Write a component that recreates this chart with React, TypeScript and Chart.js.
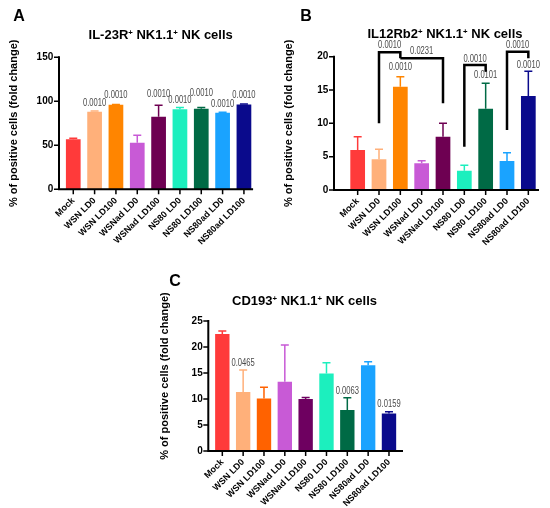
import React, { useEffect, useRef } from "react";
import { Chart, registerables } from "chart.js";

Chart.register(...registerables);

const FONT = "Arial, 'Liberation Sans', sans-serif";

const categories = [
  "Mock",
  "WSN LD0",
  "WSN LD100",
  "WSNad LD0",
  "WSNad LD100",
  "NS80 LD0",
  "NS80 LD100",
  "NS80ad LD0",
  "NS80ad LD100",
];

// Panel A: IL-23R+
const il23rMeans = [57, 88, 96, 53, 82.5, 91, 91.5, 87, 96.5];
const il23rErrTop = [58, 89, 96.5, 61.5, 95.5, 93, 93, 87.5, 97];
const il23rPText = [null, "0.0010", "0.0010", null, "0.0010", "0.0010", "0.0010", "0.0010", "0.0010"];
const il23rPPos = [null, 97.7, 106.8, null, 108.3, 100.7, 109, 96.1, 106.4];
const il23rTicksMax = 150;
const il23rTickStep = 50;

// Panel B: IL12Rb2+
const il12Means = [6.0, 4.6, 15.5, 4.0, 8.0, 2.9, 12.2, 4.35, 14.1];
const il12ErrTop = [8.0, 6.1, 17.0, 4.4, 10.0, 3.7, 16.0, 5.6, 17.8];
const il12PText = [null, null, "0.0010", null, null, null, "0.0101", null, "0.0010"];
const il12PPos = [null, null, 18.4, null, null, null, 17.25, null, 18.75];
const il12TicksMax = 20;
const il12TickStep = 5;
// brackets: from index, to index, left leg bottom, bar top, right leg bottom, label, label y
const il12BracketFrom = [1, 2, 5, 7];
const il12BracketTo = [2, 4, 6, 8];
const il12BracketLeftEnd = [10.0, 19.75, 6.5, 9.0];
const il12BracketTop = [20.66, 19.75, 18.75, 20.75];
const il12BracketRightEnd = [19.75, 13.0, 17.75, 19.75];
const il12BracketLabel = ["0.0010", "0.0231", "0.0010", "0.0010"];
const il12BracketLabelY = [21.75, 20.75, 19.6, 21.75];

// Panel C: CD193+
const cd193Means = [22.5, 11.35, 10.1, 13.3, 10.0, 14.9, 7.9, 16.5, 7.2];
const cd193ErrTop = [23.1, 15.6, 12.25, 20.4, 10.3, 16.95, 10.25, 17.15, 7.55];
const cd193PText = [null, "0.0465", null, null, null, null, "0.0063", null, "0.0159"];
const cd193PPos = [null, 16.87, null, null, null, null, 11.54, null, 8.9];
const cd193TicksMax = 25;
const cd193TickStep = 5;

const colorsAB = ["#FF3A3A", "#FFB07A", "#FF8500", "#C85AD6", "#6E0052", "#1CEFBE", "#006A45", "#1AA3FF", "#0A0A8C"];
const colorsC = ["#FF3A3A", "#FFB07A", "#FF6200", "#C85AD6", "#6E0060", "#1CEFBE", "#006A45", "#1AA3FF", "#0A0A8C"];

type Panel = {
  left: number;
  top: number;
  width: number;
  height: number;
  areaLeft: number;
  areaTop: number;
  areaRight: number;
  areaBottom: number;
  axisGap: number;
  axisExt: number;
  yMax: number;
  yStep: number;
  yPad: number;
  yTitleX: number;
  yTitleDy: number;
  means: number[];
  errTop: number[];
  colors: string[];
  pText: (string | null)[];
  pPos: (number | null)[];
  brackets?: {
    from: number[];
    to: number[];
    leftEnd: number[];
    top: number[];
    rightEnd: number[];
    label: string[];
    labelY: number[];
  };
};

const X_H = 56;

function drawP(ctx: CanvasRenderingContext2D, text: string, x: number, y: number) {
  ctx.save();
  ctx.translate(x, y);
  ctx.scale(0.76, 1);
  ctx.font = `10px ${FONT}`;
  ctx.fillStyle = "#4a4a4a";
  ctx.textAlign = "center";
  ctx.textBaseline = "middle";
  ctx.fillText(text, 0, 0);
  ctx.restore();
}

function BarPanel({ p }: { p: Panel }) {
  const ref = useRef<HTMLCanvasElement | null>(null);
  useEffect(() => {
    if (!ref.current) return;
    const overlay = {
      id: "overlay",
      afterDraw(chart: any) {
        const ctx: CanvasRenderingContext2D = chart.ctx;
        const xs = chart.scales.x;
        const ys = chart.scales.y;
        const a = chart.chartArea;
        ctx.save();
        // error bars
        p.means.forEach((m, i) => {
          const cx = xs.getPixelForValue(i);
          const y0 = ys.getPixelForValue(m);
          const y1 = ys.getPixelForValue(p.errTop[i]);
          ctx.strokeStyle = p.colors[i];
          ctx.lineWidth = 1.5;
          ctx.beginPath();
          ctx.moveTo(cx, y0);
          ctx.lineTo(cx, y1);
          ctx.moveTo(cx - 4, y1);
          ctx.lineTo(cx + 4, y1);
          ctx.stroke();
        });
        // axes
        const ax = a.left - p.axisGap;
        ctx.strokeStyle = "#000";
        ctx.lineWidth = 2;
        ctx.beginPath();
        ctx.moveTo(ax, ys.getPixelForValue(p.yMax) - 1);
        ctx.lineTo(ax, a.bottom);
        ctx.lineTo(a.right + p.axisExt, a.bottom);
        ctx.stroke();
        ctx.lineWidth = 1.5;
        ctx.beginPath();
        ys.ticks.forEach((t: any) => {
          const py = ys.getPixelForValue(t.value);
          ctx.moveTo(ax - 5, py);
          ctx.lineTo(ax, py);
        });
        categories.forEach((_, i) => {
          const px = xs.getPixelForValue(i);
          ctx.moveTo(px, a.bottom);
          ctx.lineTo(px, a.bottom + 5);
        });
        ctx.stroke();
        // p-values
        p.pText.forEach((t, i) => {
          const v = p.pPos[i];
          if (t && v !== null) drawP(ctx, t, xs.getPixelForValue(i), ys.getPixelForValue(v));
        });
        // brackets
        if (p.brackets) {
          const b = p.brackets;
          ctx.strokeStyle = "#000";
          ctx.lineWidth = 2.5;
          ctx.lineJoin = "miter";
          b.from.forEach((f, k) => {
            const x1 = xs.getPixelForValue(f);
            const x2 = xs.getPixelForValue(b.to[k]);
            ctx.beginPath();
            ctx.moveTo(x1, ys.getPixelForValue(b.leftEnd[k]));
            ctx.lineTo(x1, ys.getPixelForValue(b.top[k]));
            ctx.lineTo(x2, ys.getPixelForValue(b.top[k]));
            ctx.lineTo(x2, ys.getPixelForValue(b.rightEnd[k]));
            ctx.stroke();
            drawP(ctx, b.label[k], (x1 + x2) / 2, ys.getPixelForValue(b.labelY[k]));
          });
        }
        // y title
        ctx.save();
        ctx.translate(p.yTitleX, (a.top + a.bottom) / 2 + p.yTitleDy);
        ctx.rotate(-Math.PI / 2);
        ctx.font = `bold 11px ${FONT}`;
        ctx.fillStyle = "#000";
        ctx.textAlign = "center";
        ctx.textBaseline = "middle";
        ctx.fillText("% of positive cells (fold change)", 0, 0);
        ctx.restore();
        ctx.restore();
      },
    };
    const chart = new Chart(ref.current, {
      type: "bar",
      data: {
        labels: categories,
        datasets: [
          {
            data: p.means,
            backgroundColor: p.colors,
            borderWidth: 0,
            barPercentage: 0.69,
            categoryPercentage: 1,
          },
        ],
      },
      options: {
        responsive: false,
        animation: false,
        layout: {
          padding: {
            left: 0,
            top: p.areaTop,
            right: p.width - p.areaRight,
            bottom: p.height - p.areaBottom - X_H,
          },
        },
        plugins: {
          legend: { display: false },
          tooltip: { enabled: false },
          title: { display: false },
        },
        scales: {
          x: {
            grid: { display: false, drawTicks: false },
            border: { display: false },
            ticks: {
              color: "#000",
              font: { family: FONT, size: 9, weight: "bold" },
              minRotation: 45,
              maxRotation: 45,
              padding: 6,
              autoSkip: false,
            },
            afterFit: (s: any) => {
              s.height = X_H;
            },
          },
          y: {
            min: 0,
            max: p.yMax,
            grid: { display: false, drawTicks: false },
            border: { display: false },
            ticks: {
              stepSize: p.yStep,
              color: "#000",
              font: { family: FONT, size: 10, weight: "bold" },
              padding: p.yPad,
            },
            afterFit: (s: any) => {
              s.width = p.areaLeft;
            },
          },
        },
      } as any,
      plugins: [overlay],
    });
    return () => chart.destroy();
  }, [p]);
  return (
    <canvas
      ref={ref}
      width={p.width}
      height={p.height}
      style={{ position: "absolute", left: p.left, top: p.top, width: p.width, height: p.height }}
    />
  );
}

const panelA: Panel = {
  left: 0, top: 0, width: 275, height: 250,
  areaLeft: 62.6, areaTop: 57.3, areaRight: 254.6, areaBottom: 189.3,
  axisGap: 3.6, axisExt: -1.5,
  yMax: il23rTicksMax, yStep: il23rTickStep, yPad: 9.3, yTitleX: 13.5, yTitleDy: 0,
  means: il23rMeans, errTop: il23rErrTop, colors: colorsAB, pText: il23rPText, pPos: il23rPPos,
};

const panelB: Panel = {
  left: 275, top: 0, width: 275, height: 250,
  areaLeft: 72, areaTop: 56.7, areaRight: 264, areaBottom: 190,
  axisGap: 13, axisExt: 0,
  yMax: il12TicksMax, yStep: il12TickStep, yPad: 18.7, yTitleX: 13.5, yTitleDy: 0,
  means: il12Means, errTop: il12ErrTop, colors: colorsAB, pText: il12PText, pPos: il12PPos,
  brackets: {
    from: il12BracketFrom,
    to: il12BracketTo,
    leftEnd: il12BracketLeftEnd,
    top: il12BracketTop,
    rightEnd: il12BracketRightEnd,
    label: il12BracketLabel,
    labelY: il12BracketLabelY,
  },
};

const panelC: Panel = {
  left: 150, top: 255, width: 270, height: 253,
  areaLeft: 61.9, areaTop: 66, areaRight: 249.4, areaBottom: 196,
  axisGap: 3.6, axisExt: 3.6,
  yMax: cd193TicksMax, yStep: cd193TickStep, yPad: 9.2, yTitleX: 15, yTitleDy: -10,
  means: cd193Means, errTop: cd193ErrTop, colors: colorsC, pText: cd193PText, pPos: cd193PPos,
};

const sup: React.CSSProperties = { fontSize: "0.6em", position: "relative", top: "-0.55em" };

function Label({ x, y, size, children }: { x: number; y: number; size: number; children: React.ReactNode }) {
  return (
    <div
      style={{
        position: "absolute",
        left: x,
        top: y,
        transform: "translate(-50%, -50%)",
        font: `bold ${size}px ${FONT}`,
        lineHeight: 1,
        whiteSpace: "nowrap",
        color: "#000",
      }}
    >
      {children}
    </div>
  );
}

export default function App() {
  return (
    <div style={{ position: "fixed", left: 0, top: 0, width: 550, height: 508, background: "#fff", overflow: "hidden" }}>
      <BarPanel p={panelA} />
      <BarPanel p={panelB} />
      <BarPanel p={panelC} />
      <Label x={19} y={15.5} size={16}>A</Label>
      <Label x={306} y={15.5} size={16}>B</Label>
      <Label x={175} y={280.5} size={16}>C</Label>
      <Label x={160.7} y={34} size={13}>
        IL-23R<span style={sup}>+</span> NK1.1<span style={sup}>+</span> NK cells
      </Label>
      <Label x={445} y={33} size={13}>
        IL12Rb2<span style={sup}>+</span> NK1.1<span style={sup}>+</span> NK cells
      </Label>
      <Label x={304.5} y={300} size={13}>
        CD193<span style={sup}>+</span> NK1.1<span style={sup}>+</span> NK cells
      </Label>
    </div>
  );
}
